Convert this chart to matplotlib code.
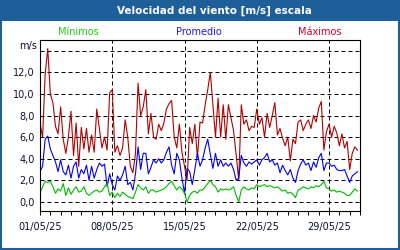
# wind speed chart, May 2025 (min / avg / max, 6-hourly)

import matplotlib
matplotlib.use("Agg")
import matplotlib.pyplot as plt
import matplotlib.dates as mdates
from matplotlib.patches import Rectangle
import pandas as pd

title = "Velocidad del viento [m/s] escala"
labels = ["Mínimos", "Promedio", "Máximos"]
unit = "m/s"
fechas = ["2025-05-01", "2025-05-08", "2025-05-15", "2025-05-22", "2025-05-29"]

maximos = [7.3, 6.0, 11.8, 14.2, 10.0, 9.2, 7.0, 6.3, 8.8, 5.8, 4.5, 6.0,
           8.4, 4.3, 7.3, 3.3, 6.9, 4.9, 6.8, 4.6, 6.2, 4.6, 8.6, 6.8,
           5.0, 6.0, 4.8, 10.1, 10.4, 4.6, 5.2, 4.3, 5.0, 7.6, 6.0, 3.3,
           2.7, 4.5, 11.0, 8.0, 8.8, 10.4, 6.3, 8.2, 6.0, 5.8, 7.2, 6.6,
           7.3, 8.6, 9.1, 9.4, 6.0, 5.0, 7.2, 4.6, 3.3, 2.0, 6.9, 5.4,
           7.2, 4.1, 7.4, 7.3, 9.0, 10.4, 12.0, 9.0, 6.0, 9.6, 6.0, 9.0,
           5.8, 9.0, 7.8, 6.6, 4.4, 2.0, 9.0, 7.2, 7.6, 6.6, 7.0, 6.9,
           8.6, 7.2, 7.8, 6.0, 8.2, 6.9, 8.0, 9.2, 6.2, 6.8, 5.9, 5.2,
           6.0, 3.8, 5.8, 5.4, 7.4, 7.6, 6.6, 7.2, 7.6, 6.8, 8.0, 7.4,
           8.7, 9.3, 4.8, 6.5, 7.2, 6.0, 7.0, 6.4, 5.2, 6.3, 5.0, 5.6,
           3.0, 4.5, 5.1, 4.8]

promedio = [2.8, 3.3, 5.8, 6.1, 4.9, 4.3, 3.7, 2.8, 3.9, 2.8, 2.5, 3.4,
            2.2, 3.3, 3.7, 2.2, 3.0, 2.6, 3.4, 2.0, 3.3, 2.2, 3.0, 3.6,
            3.3, 3.5, 1.4, 2.6, 1.6, 1.1, 2.4, 2.0, 2.5, 3.3, 1.6, 1.8,
            1.1, 2.6, 5.1, 3.0, 4.5, 4.5, 2.6, 3.2, 3.9, 3.6, 4.0, 3.6,
            3.9, 4.6, 5.1, 3.4, 2.6, 4.5, 3.9, 2.2, 0.8, 3.1, 2.8, 1.6,
            3.0, 4.5, 3.3, 3.9, 5.0, 5.8, 4.4, 3.1, 4.5, 3.3, 3.9, 3.3,
            3.6, 3.3, 3.6, 3.0, 2.0, 2.2, 4.3, 3.6, 3.3, 3.7, 3.5, 3.7,
            3.9, 3.4, 3.9, 4.1, 4.5, 3.7, 3.9, 3.4, 3.6, 2.7, 3.4, 2.9,
            2.5, 3.0, 2.2, 1.8, 2.9, 3.5, 3.9, 3.4, 3.6, 2.9, 3.7, 3.2,
            4.1, 4.5, 2.9, 3.6, 3.6, 3.3, 3.4, 3.0, 2.9, 2.9, 3.0, 2.4,
            1.8, 2.4, 2.6, 2.8]

minimos = [0.8, 1.4, 1.9, 1.8, 1.9, 1.4, 0.8, 1.2, 1.0, 1.7, 0.6, 1.3,
           0.7, 1.1, 1.4, 0.9, 1.0, 1.4, 0.8, 0.6, 0.8, 1.0, 1.1, 0.9,
           1.0, 1.4, 1.7, 0.6, 0.9, 0.4, 0.8, 0.5, 0.9, 0.7, 0.5, 0.4,
           0.3, 0.9, 1.6, 1.3, 1.1, 1.4, 0.8, 1.1, 1.1, 0.9, 1.0, 1.1,
           1.2, 1.4, 1.7, 1.9, 1.5, 1.1, 1.4, 1.2, 0.8, 0.0, 0.6, 0.9,
           1.0, 0.8, 1.1, 1.1, 1.4, 1.7, 2.0, 1.6, 1.4, 0.9, 1.2, 1.1,
           1.2, 1.1, 1.2, 1.4, 0.6, 0.0, 1.1, 1.4, 1.2, 1.1, 1.3, 1.2,
           1.6, 1.4, 1.5, 1.6, 1.4, 1.5, 1.4, 1.3, 1.4, 1.2, 1.0, 1.1,
           0.8, 0.9, 0.7, 0.4, 1.1, 1.2, 1.4, 1.3, 1.2, 1.4, 1.3, 1.5,
           1.4, 1.6, 1.9, 1.3, 1.2, 1.0, 1.1, 0.9, 1.0, 0.9, 0.8, 0.6,
           0.6, 0.9, 1.2, 1.0]

tiempo = pd.date_range("2025-05-01", periods=len(maximos), freq="6h")

frame_col = "#1f5f99"
text_col = "#101030"

fig = plt.figure(figsize=(4, 2.5), dpi=100)
fig.patch.set_facecolor("white")

# title bar + border
fig.patches.append(Rectangle((0, 0.918), 1, 0.082, transform=fig.transFigure,
                             facecolor=frame_col, edgecolor="none", zorder=0))
fig.patches.append(Rectangle((0.002, 0.004), 0.996, 0.992, transform=fig.transFigure,
                             facecolor="none", edgecolor=frame_col, linewidth=1.5, zorder=5))
fig.text(0.535, 0.957, title, color="white", fontsize=7.5, fontweight="bold",
         family="DejaVu Sans", ha="center", va="center")

fig.text(0.195, 0.872, labels[0], color="#22cc22", fontsize=7, ha="center", va="center")
fig.text(0.498, 0.872, labels[1], color="#1a1aee", fontsize=7, ha="center", va="center")
fig.text(0.80, 0.872, labels[2], color="#cc0033", fontsize=7, ha="center", va="center")
fig.text(0.07, 0.815, unit, color=text_col, fontsize=7, ha="center", va="center")

ax = fig.add_axes([0.1, 0.158, 0.8, 0.682])
ax.plot(tiempo, maximos, color="#b40000", lw=0.8)
ax.plot(tiempo, promedio, color="#0000ff", lw=0.8)
ax.plot(tiempo, minimos, color="#00bb00", lw=0.8)

ax.set_xlim(pd.Timestamp("2025-05-01"), pd.Timestamp("2025-06-01"))
ax.set_ylim(-0.8, 15)
ax.set_yticks(range(0, 15, 2))
ax.set_yticklabels([f"{v},0" if v <= 12 else "" for v in range(0, 15, 2)])
ax.set_xticks(pd.to_datetime(fechas))
ax.xaxis.set_major_formatter(mdates.DateFormatter("%d/%m/%y"))
ax.xaxis.set_minor_locator(mdates.DayLocator())
ax.tick_params(axis="x", which="both", direction="out", length=3, width=0.7,
               labelsize=7, labelcolor=text_col, pad=5)
ax.tick_params(axis="y", length=0, labelsize=7, labelcolor=text_col, pad=4)
ax.grid(True, color="black", linestyle=(0, (4, 3)), linewidth=0.72)
for s in ax.spines.values():
    s.set_linewidth(0.8)
    s.set_color("black")

fig.savefig("out.png", dpi=100)
